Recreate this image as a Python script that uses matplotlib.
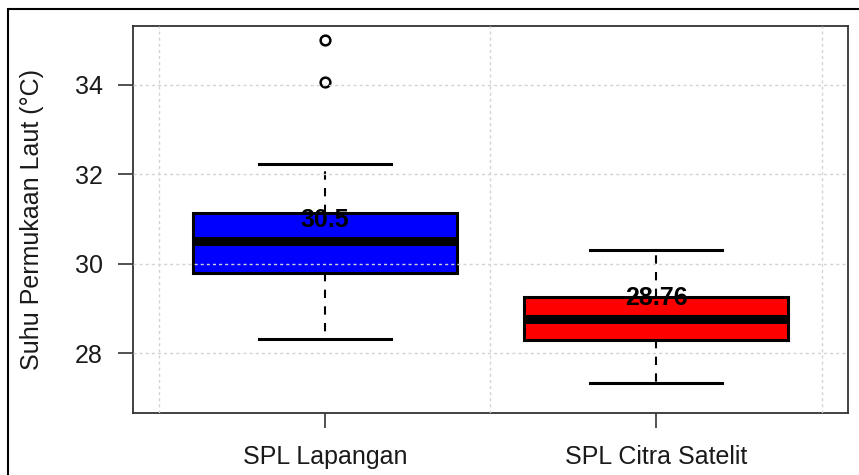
import matplotlib
matplotlib.use("Agg")
import matplotlib.pyplot as plt
from matplotlib.patches import Rectangle
from matplotlib.ticker import MultipleLocator


# Data
categories = ["SPL Lapangan", "SPL Citra Satelit"]
whisker_low = [28.31, 27.34]
q1 = [29.79, 28.29]
medians = [30.5, 28.76]
q3 = [31.13, 29.26]
whisker_high = [32.23, 30.30]
outliers = [[34.07, 35.0], []]
median_labels = ["30.5", "28.76"]
box_colors = ["#0000FF", "#FF0000"]
y_ticks = [28, 30, 32, 34]

plt.rcParams["font.family"] = ["Liberation Sans", "DejaVu Sans"]

fig = plt.figure(figsize=(8.59, 4.75), dpi=100)
ax = fig.add_axes([133 / 859, 1 - 413 / 475, 715 / 859, 387 / 475])

stats = []
for i, name in enumerate(categories):
    stats.append(
        {
            "label": name,
            "whislo": whisker_low[i],
            "q1": q1[i],
            "med": medians[i],
            "q3": q3[i],
            "whishi": whisker_high[i],
            "fliers": outliers[i],
        }
    )

bp = ax.bxp(
    stats,
    positions=[1, 2],
    widths=0.8,
    capwidths=0.4,
    patch_artist=True,
    showfliers=True,
    boxprops=dict(edgecolor="black", linewidth=2.2),
    medianprops=dict(color="black", linewidth=6.5, solid_capstyle="butt"),
    whiskerprops=dict(color="black", linewidth=1.5, linestyle=(0, (4, 4))),
    capprops=dict(color="black", linewidth=2.2),
    flierprops=dict(marker="o", markerfacecolor="none", markeredgecolor="black",
                    markersize=7, markeredgewidth=1.8),
)
for patch, c in zip(bp["boxes"], box_colors):
    patch.set_facecolor(c)

# median value labels above each median line
for i, lab in enumerate(median_labels):
    ax.annotate(lab, xy=(i + 1, medians[i]), xytext=(0, 10.5),
                textcoords="offset points", ha="center", va="baseline",
                fontsize=18, fontweight="bold", color="black", zorder=2.4)

ax.set_xlim(0.42, 2.58)
ax.set_ylim(26.66, 35.32)
ax.set_yticks(y_ticks)
ax.set_xticks([1, 2])
ax.set_xticklabels(categories)
ax.xaxis.set_minor_locator(MultipleLocator(0.5))

# grid drawn over the boxes, like R's grid() after boxplot()
ax.set_axisbelow(False)
grid_style = dict(color="lightgray", linestyle=(0, (2.2, 2.2)), linewidth=1.0)
ax.grid(True, which="major", axis="y", **grid_style)
ax.grid(True, which="minor", axis="x", **grid_style)

ax.tick_params(axis="both", which="major", labelsize=18, length=10.8, width=1.2,
               color="#333333", labelcolor="#1a1a1a")
ax.tick_params(axis="x", which="major", pad=12)
ax.tick_params(axis="y", which="major", pad=11)
ax.tick_params(axis="x", which="minor", length=0)

for sp in ax.spines.values():
    sp.set_color("#333333")
    sp.set_linewidth(1.3)

ax.set_ylabel("Suhu Permukaan Laut (°C)", fontsize=18, color="#1a1a1a", va="center")
ax.yaxis.set_label_coords(-0.141, 0.5)

# outer frame, partly cut off at right and bottom
fig.patches.append(Rectangle((8 / 859, -0.1), 1.1, 1 - 9 / 475 + 0.1,
                             transform=fig.transFigure, fill=False,
                             edgecolor="black", linewidth=1.5))

fig.savefig("out.png", dpi=100, facecolor="white")
